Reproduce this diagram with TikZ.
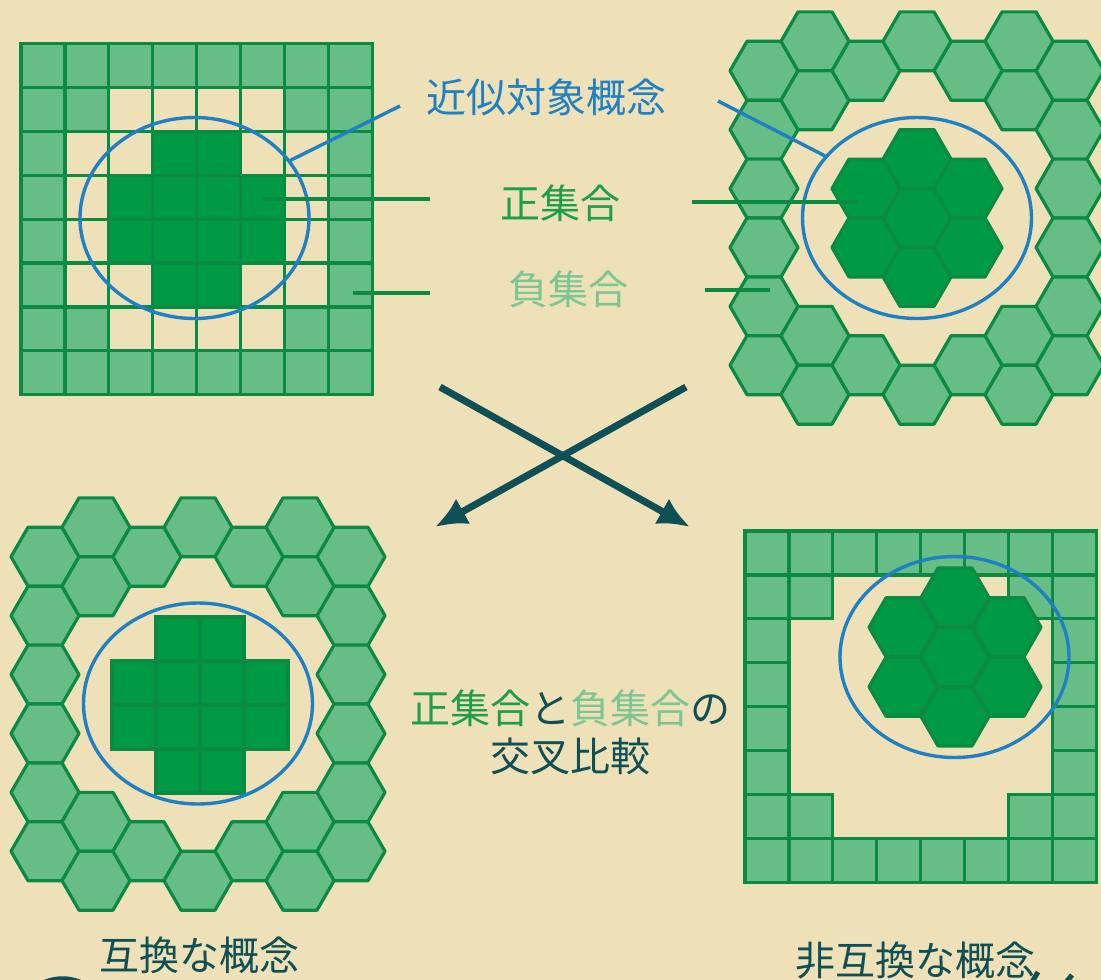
\documentclass[tikz,border=0pt]{standalone}
\usepackage{fontspec}
\newfontfamily\jpfont{Noto Sans CJK JP}
\usetikzlibrary{arrows.meta,shapes.geometric}

\definecolor{paper}{HTML}{EEE1B8}
\definecolor{cellgreen}{HTML}{66BD86}
\definecolor{coregreen}{HTML}{009A44}
\definecolor{edgegreen}{HTML}{0B8A43}
\definecolor{setblue}{HTML}{1F80C4}
\definecolor{postext}{HTML}{1E9E4C}
\definecolor{negtext}{HTML}{7DC694}
\definecolor{darkteal}{HTML}{0F4F56}

\newcommand\hexpts{(34,0) -- (17,29.45) -- (-17,29.45) -- (-34,0) -- (-17,-29.45) -- (17,-29.45) -- cycle}
\newcommand\ringhexes{-3/-2.5,-3/-1.5,-3/-0.5,-3/0.5,-3/1.5,-3/2.5,3/-2.5,3/-1.5,3/-0.5,3/0.5,3/1.5,3/2.5,-2/-3,-2/-2,-2/2,-2/3,2/-3,2/-2,2/2,2/3,-1/-2.5,-1/2.5,1/-2.5,1/2.5,0/-3,0/3}
\newcommand\corehexes{0/-1,0/0,0/1,-1/-0.5,-1/0.5,1/-0.5,1/0.5}
\newcommand\crosscells{1/0,2/0,0/1,1/1,2/1,3/1,0/2,1/2,2/2,3/2,1/3,2/3}

\begin{document}
\begin{tikzpicture}[
    x = 1pt, y = -1pt,
    cellL/.style    = {fill=cellgreen, draw=edgegreen, line width=3.2pt},
    cellD/.style    = {fill=coregreen, draw=edgegreen, line width=3.2pt},
    cellE/.style    = {draw=edgegreen, line width=3.2pt},
    hexL/.style     = {fill=cellgreen, draw=edgegreen, line width=3.2pt,
                       line join=round},
    hexD/.style     = {fill=coregreen, draw=edgegreen, line width=3.2pt,
                       line join=round},
    oval/.style     = {ellipse, draw=setblue, line width=3.4pt,
                       minimum width=229pt, minimum height=201pt,
                       inner sep=0pt},
    tag/.style      = {font=\jpfont\fontsize{40}{48}\selectfont,
                       inner sep=0pt, align=center},
    lead/.style     = {draw=edgegreen, line width=3.2pt},
    bluelead/.style = {draw=setblue, line width=3.4pt},
    arr/.style      = {draw=darkteal, line width=7pt,
                       -{Latex[length=32pt,width=29pt]}}
]
\fill[paper] (0,0) rectangle (1101,980);
\useasboundingbox (0,0) rectangle (1101,980);

% square grid, top left
\foreach \i in {0,...,7} \foreach \j in {0,...,7} {
  \pgfmathtruncatemacro\ring{(\i==0)||(\i==7)||(\j==0)||(\j==7)||((\i==1||\i==6)&&(\j==1||\j==6))}
  \ifnum\ring=1
    \draw[cellL] ({21+43.9*\i},{43.5+43.9*\j}) rectangle +(43.9,43.9);
  \else
    \draw[cellE] ({21+43.9*\i},{43.5+43.9*\j}) rectangle +(43.9,43.9);
  \fi
}
\foreach \i/\j in \crosscells
  \draw[cellD] ({108.8+43.9*\i},{131.3+43.9*\j}) rectangle +(43.9,43.9);

% hex tiling, top right
\foreach \c/\v in \ringhexes
  \draw[hexL, shift={({917+51*\c},{218+58.9*\v})}] \hexpts;
\foreach \c/\v in \corehexes
  \draw[hexD, shift={({917+51*\c},{218+58.9*\v})}] \hexpts;

% hex ring with square core, bottom left
\foreach \c/\v in \ringhexes
  \draw[hexL, shift={({198+51*\c},{704+58.9*\v})}] \hexpts;
\foreach \i/\j in \crosscells
  \draw[cellD] ({112+44*\i},{617+44*\j}) rectangle +(44,44);

% square ring with hex core, bottom right
\foreach \i in {0,...,7} \foreach \j in {0,...,7} {
  \pgfmathtruncatemacro\ring{(\i==0)||(\i==7)||(\j==0)||(\j==7)||((\i==1||\i==6)&&(\j==1||\j==6))}
  \ifnum\ring=1
    \draw[cellL] ({745+43.9*\i},{531+43.9*\j}) rectangle +(43.9,43.9);
  \fi
}
\foreach \c/\v in \corehexes
  \draw[hexD, shift={({955+52*\c},{657+59.5*\v})}] \hexpts;

\node (ovTL) [oval] at (194.5,218) {};
\node (ovTR) [oval] at (917,218) {};
\node (ovBL) [oval] at (198,703.5) {};
\node (ovBR) [oval] at (954.5,657) {};

\node (approx) [tag, text=setblue] at (546,97) {近似対象概念};
\node (posset) [tag, text=postext] at (560,203) {正集合};
\node (negset) [tag, text=negtext] at (568,289) {負集合};
\node (cmp) [tag, text=darkteal] at (570,732)
  {{\color{postext}正集合}と{\color{negtext}負集合}の\\交叉比較};
\node (compat) [tag, text=darkteal] at (199,955) {互換な概念};
\node (noncompat) [tag, text=darkteal] at (915,960) {非互換な概念};

\coordinate (apL) at (400,106);
\coordinate (apR) at (718,101);
\coordinate (psL) at (262,199);
\coordinate (psM) at (430,199);
\coordinate (psN) at (692,202);
\coordinate (psR) at (858,202);
\coordinate (ngL) at (353,293);
\coordinate (ngM) at (430,293);
\coordinate (ngN) at (705,290);
\coordinate (ngR) at (770,290);
\draw[bluelead] (apL) -- (ovTL.31);
\draw[bluelead] (apR) -- (ovTR.146);
\draw[lead] (psL) -- (psM);
\draw[lead] (psN) -- (psR);
\draw[lead] (ngL) -- (ngM);
\draw[lead] (ngN) -- (ngR);

\coordinate (xTL) at (440,387);
\coordinate (xBR) at (690,527);
\coordinate (xTR) at (686,387);
\coordinate (xBL) at (435,527);
\draw[arr] (xTL) -- (xBR);
\draw[arr] (xTR) -- (xBL);

\coordinate (fragA) at (30,992);
\coordinate (fragB) at (95,992);
\coordinate (fragC) at (1026,992);
\coordinate (fragD) at (1038,972);
\coordinate (fragE) at (1058,992);
\coordinate (fragF) at (1072,975);
\draw[darkteal, line width=6pt] (fragA) .. controls (50,975) and (75,975) .. (fragB);
\draw[darkteal, line width=5pt] (fragC) -- (fragD);
\draw[darkteal, line width=5pt] (fragE) -- (fragF);
\end{tikzpicture}
\end{document}
